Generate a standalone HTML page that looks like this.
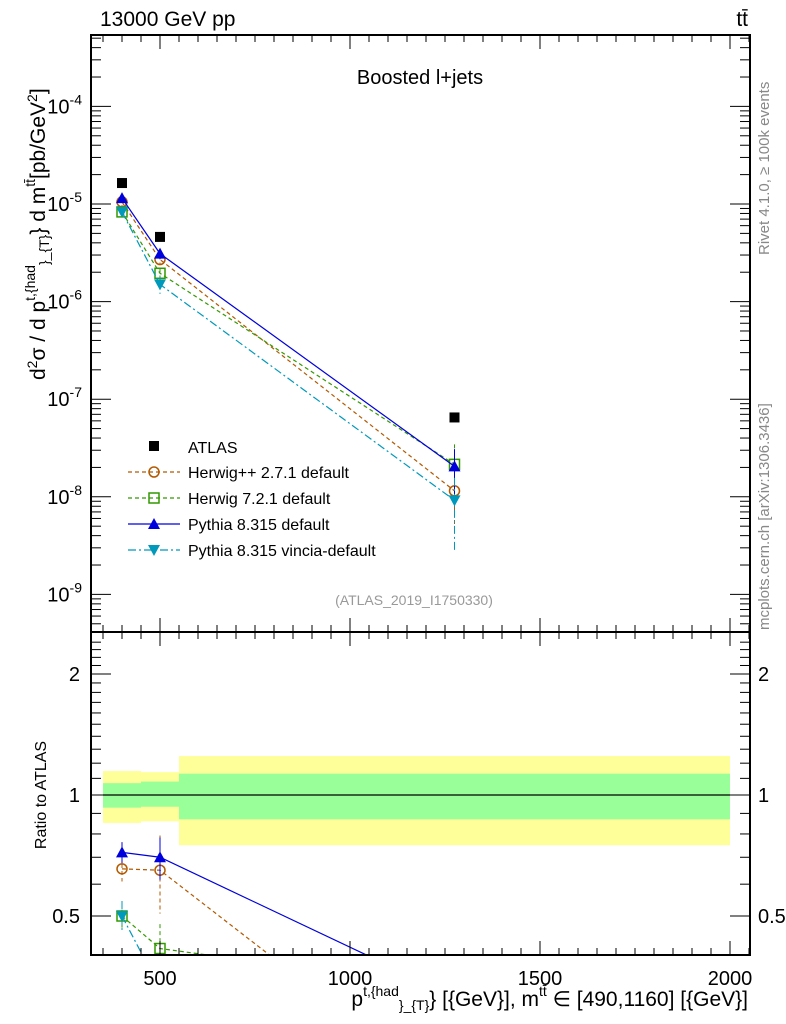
<!DOCTYPE html>
<html><head><meta charset="utf-8"><style>
html,body{margin:0;background:#fff;overflow:hidden;width:786px;height:1024px}
svg{font-family:"Liberation Sans",sans-serif;display:block}
</style></head><body>
<svg id="c" width="786" height="1024" xmlns="http://www.w3.org/2000/svg"></svg>
<script>
const binEdges=[350,450,550,2000];
const xCenters=[400,500,1275];
const atlas=[1.64e-5,4.6e-6,6.5e-8];
const series=["Herwig++ 2.7.1 default","Herwig 7.2.1 default","Pythia 8.315 default","Pythia 8.315 vincia-default"];
const herwigpp=[1.05e-5,2.7e-6,1.15e-8];
const herwig7=[8.3e-6,1.95e-6,2.15e-8];
const pythia=[1.15e-5,3.1e-6,2.05e-8];
const vincia=[8.3e-6,1.5e-6,9.2e-9];
const rHerwigpp=[0.655,0.65,0.176];
const rHerwig7=[0.50,0.415,0.33];
const rPythia=[0.72,0.70,0.315];
const rVincia=[0.50,0.33,0.14];
const rErr=[[0.07,0.22,0.05],[0.08,0.15,0.05],[0.06,0.12,0.05],[0.09,0.1,0.05]];
const mErr=[[0.1,0.1,0.6],[0.08,0.12,0.6],[0.08,0.12,0.5],[0.1,0.2,0.7]];
const bandYellowHi=[1.147,1.14,1.25];
const bandYellowLo=[0.852,0.86,0.75];
const bandGreenHi=[1.07,1.08,1.13];
const bandGreenLo=[0.93,0.935,0.87];
const xTicks=[500,1000,1500,2000];
const yDecades=[-9,-8,-7,-6,-5,-4];
const rTicks=[0.5,1,2];

const L=91,R=750,T=35,M=632,B=955;
const X=v=>160+(v-500)*0.38;
const Y=v=>204-(Math.log10(v)+5)*97.6;
const RY=r=>795-Math.log2(r)*121;
const svg=document.getElementById('c');
const NS='http://www.w3.org/2000/svg';
function el(t,a,p){const e=document.createElementNS(NS,t);for(const k in a)e.setAttribute(k,a[k]);(p||svg).appendChild(e);return e;}
function txt(x,y,s,a,p){const e=el('text',Object.assign({x:x,y:y},a||{}),p);e.innerHTML=s;return e;}

const defs=el('defs',{});
const c1=el('clipPath',{id:'cm'},defs);el('rect',{x:L,y:T,width:R-L,height:M-T},c1);
const c2=el('clipPath',{id:'cr'},defs);el('rect',{x:L,y:M,width:R-L,height:B-M},c2);

const gr=el('g',{'clip-path':'url(#cr)'});


for(let i=0;i<3;i++){
  const x0=X(binEdges[i]),x1=X(binEdges[i+1]);
  const y=el('rect',{x:x0,y:RY(bandYellowHi[i]),width:x1-x0,height:RY(bandYellowLo[i])-RY(bandYellowHi[i]),fill:'#ffff99'},gr);
  
  
  const g=el('rect',{x:x0,y:RY(bandGreenHi[i]),width:x1-x0,height:RY(bandGreenLo[i])-RY(bandGreenHi[i]),fill:'#99ff99'},gr);
  
  
}
el('line',{x1:X(binEdges[0]),x2:X(binEdges[3]),y1:RY(1),y2:RY(1),stroke:'#000','stroke-width':1.2},gr);

const styles=[
 {c:'#b35900',d:'4,3',m:'circle'},
 {c:'#339900',d:'4,3',m:'square'},
 {c:'#0000dd',d:'',m:'tri'},
 {c:'#0099bb',d:'8,3,2,3',m:'tridown'}];
const mains=[herwigpp,herwig7,pythia,vincia];
const ratios=[rHerwigpp,rHerwig7,rPythia,rVincia];
function marker(g,type,x,y,c){
  if(type==='circle')el('circle',{cx:x,cy:y,r:5,fill:'none',stroke:c,'stroke-width':1.5},g);
  else if(type==='square')el('rect',{x:x-5,y:y-5,width:10,height:10,fill:'none',stroke:c,'stroke-width':1.5},g);
  else if(type==='tri')el('polygon',{points:`${x},${y-6} ${x-6},${y+5} ${x+6},${y+5}`,fill:c},g);
  else if(type==='tridown')el('polygon',{points:`${x},${y+6} ${x-6},${y-5} ${x+6},${y-5}`,fill:c},g);
  else el('rect',{x:x-5,y:y-5,width:10,height:10,fill:c},g);
}
const gm=el('g',{'clip-path':'url(#cm)'});
for(let s=0;s<4;s++){
  const st=styles[s];
  const g=el('g',{},gm);
  
  
  el('polyline',{points:xCenters.map((x,i)=>X(x)+','+Y(mains[s][i])).join(' '),fill:'none',stroke:st.c,'stroke-width':1.2,'stroke-dasharray':st.d},g);
  xCenters.forEach((x,i)=>{
    const e=mErr[s][i];
    el('line',{x1:X(x),x2:X(x),y1:Y(mains[s][i]*(1+e)),y2:Y(mains[s][i]*Math.max(0.05,1-e)),stroke:st.c,'stroke-width':1,'stroke-dasharray':st.d},g);
    marker(g,st.m,X(x),Y(mains[s][i]),st.c);
  });
  const g2=el('g',{},gr);
  
  
  el('polyline',{points:xCenters.map((x,i)=>X(x)+','+RY(ratios[s][i])).join(' '),fill:'none',stroke:st.c,'stroke-width':1.2,'stroke-dasharray':st.d},g2);
  xCenters.forEach((x,i)=>{
    const e=rErr[s][i]*ratios[s][i];
    el('line',{x1:X(x),x2:X(x),y1:RY(ratios[s][i]+e),y2:RY(Math.max(0.05,ratios[s][i]-e)),stroke:st.c,'stroke-width':1,'stroke-dasharray':st.d},g2);
    marker(g2,st.m,X(x),RY(ratios[s][i]),st.c);
  });
}
const ga=el('g',{},gm);


xCenters.forEach((x,i)=>marker(ga,'sq',X(x),Y(atlas[i]),'#000'));

el('rect',{x:L,y:T,width:R-L,height:M-T,fill:'none',stroke:'#000','stroke-width':2});
el('rect',{x:L,y:M,width:R-L,height:B-M,fill:'none',stroke:'#000','stroke-width':2});
for(let v=350;v<=2050;v+=50){
  const maj=v%500===0, len=maj?14:7;
  [[T,1],[M,-1],[M,1],[B,-1]].forEach(([y,d])=>el('line',{x1:X(v),x2:X(v),y1:y,y2:y+d*len,stroke:'#000','stroke-width':1}));
}
xTicks.forEach(v=>txt(X(v),985,v,{'font-size':20,'text-anchor':'middle'}));
for(let d=-10;d<=-3;d++){
  for(let k=1;k<10;k++){
    const v=k*Math.pow(10,d),y=Y(v);
    if(y<T||y>M)continue;
    const len=k===1?20:10;
    el('line',{x1:L,x2:L+len,y1:y,y2:y,stroke:'#000'});
    el('line',{x1:R,x2:R-len,y1:y,y2:y,stroke:'#000'});
  }
}
yDecades.forEach(d=>txt(82,Y(Math.pow(10,d))+7,`10<tspan dy="-9" font-size="14">${d}</tspan>`,{'font-size':20,'text-anchor':'end'}));
for(let r=0.4;r<=2.5;r+=0.1){
  const y=RY(r);if(y<M||y>B)continue;
  const maj=rTicks.some(t=>Math.abs(t-r)<1e-6),len=maj?20:10;
  el('line',{x1:L,x2:L+len,y1:y,y2:y,stroke:'#000'});
  el('line',{x1:R,x2:R-len,y1:y,y2:y,stroke:'#000'});
}
rTicks.forEach(r=>{txt(80,RY(r)+7,r,{'font-size':20,'text-anchor':'end'});txt(758,RY(r)+7,r,{'font-size':20});});

txt(100,26,'13000 GeV pp',{'font-size':21,});
txt(748,26,'tt̄',{'font-size':21,'text-anchor':'end',});
txt(420,84,'Boosted l+jets',{'font-size':20,'text-anchor':'middle',});
txt(414,605,'(ATLAS_2019_I1750330)',{'font-size':14,fill:'#999','text-anchor':'middle',});
txt(0,0,'Rivet 4.1.0, ≥ 100k events',{'font-size':15,fill:'#888',transform:'translate(769,255) rotate(-90)',});
txt(0,0,'mcplots.cern.ch [arXiv:1306.3436]',{'font-size':15,fill:'#888',transform:'translate(769,630) rotate(-90)',});
txt(0,0,'d<tspan dy="-8" font-size="14">2</tspan><tspan dy="8">σ / d p</tspan><tspan dy="-10" font-size="14">t,{had</tspan><tspan dy="14" font-size="14">}_{T}</tspan><tspan dy="-4">} d m</tspan><tspan dy="-10" font-size="14">tt̄</tspan><tspan dy="10">[pb/GeV</tspan><tspan dy="-8" font-size="14">2</tspan><tspan dy="8">]</tspan>',{'font-size':21,transform:'translate(45,380) rotate(-90)',});
txt(0,0,'Ratio to ATLAS',{'font-size':16,'text-anchor':'middle',transform:'translate(46,795) rotate(-90)',});
txt(748,1006,'p<tspan dy="-10" font-size="14">t,{had</tspan><tspan dy="14" font-size="14">}_{T}</tspan><tspan dy="-4">} [{GeV}], m</tspan><tspan dy="-10" font-size="14">tt̄</tspan><tspan dy="10"> ∈ [490,1160] [{GeV}]</tspan>',{'font-size':21,'text-anchor':'end',});

const lg=el('g',{});


marker(lg,'sq',154,446,'#000');
txt(188,453,'ATLAS',{'font-size':16},lg);
series.forEach((n,i)=>{
  const y=472+i*26,st=styles[i];
  const g=el('g',{},lg);
  
  
  el('line',{x1:128,x2:180,y1:y,y2:y,stroke:st.c,'stroke-width':1.2,'stroke-dasharray':st.d},g);
  marker(g,st.m,154,y,st.c);
  txt(188,y+6,n,{'font-size':16},g);
});
</script>
</body></html>
